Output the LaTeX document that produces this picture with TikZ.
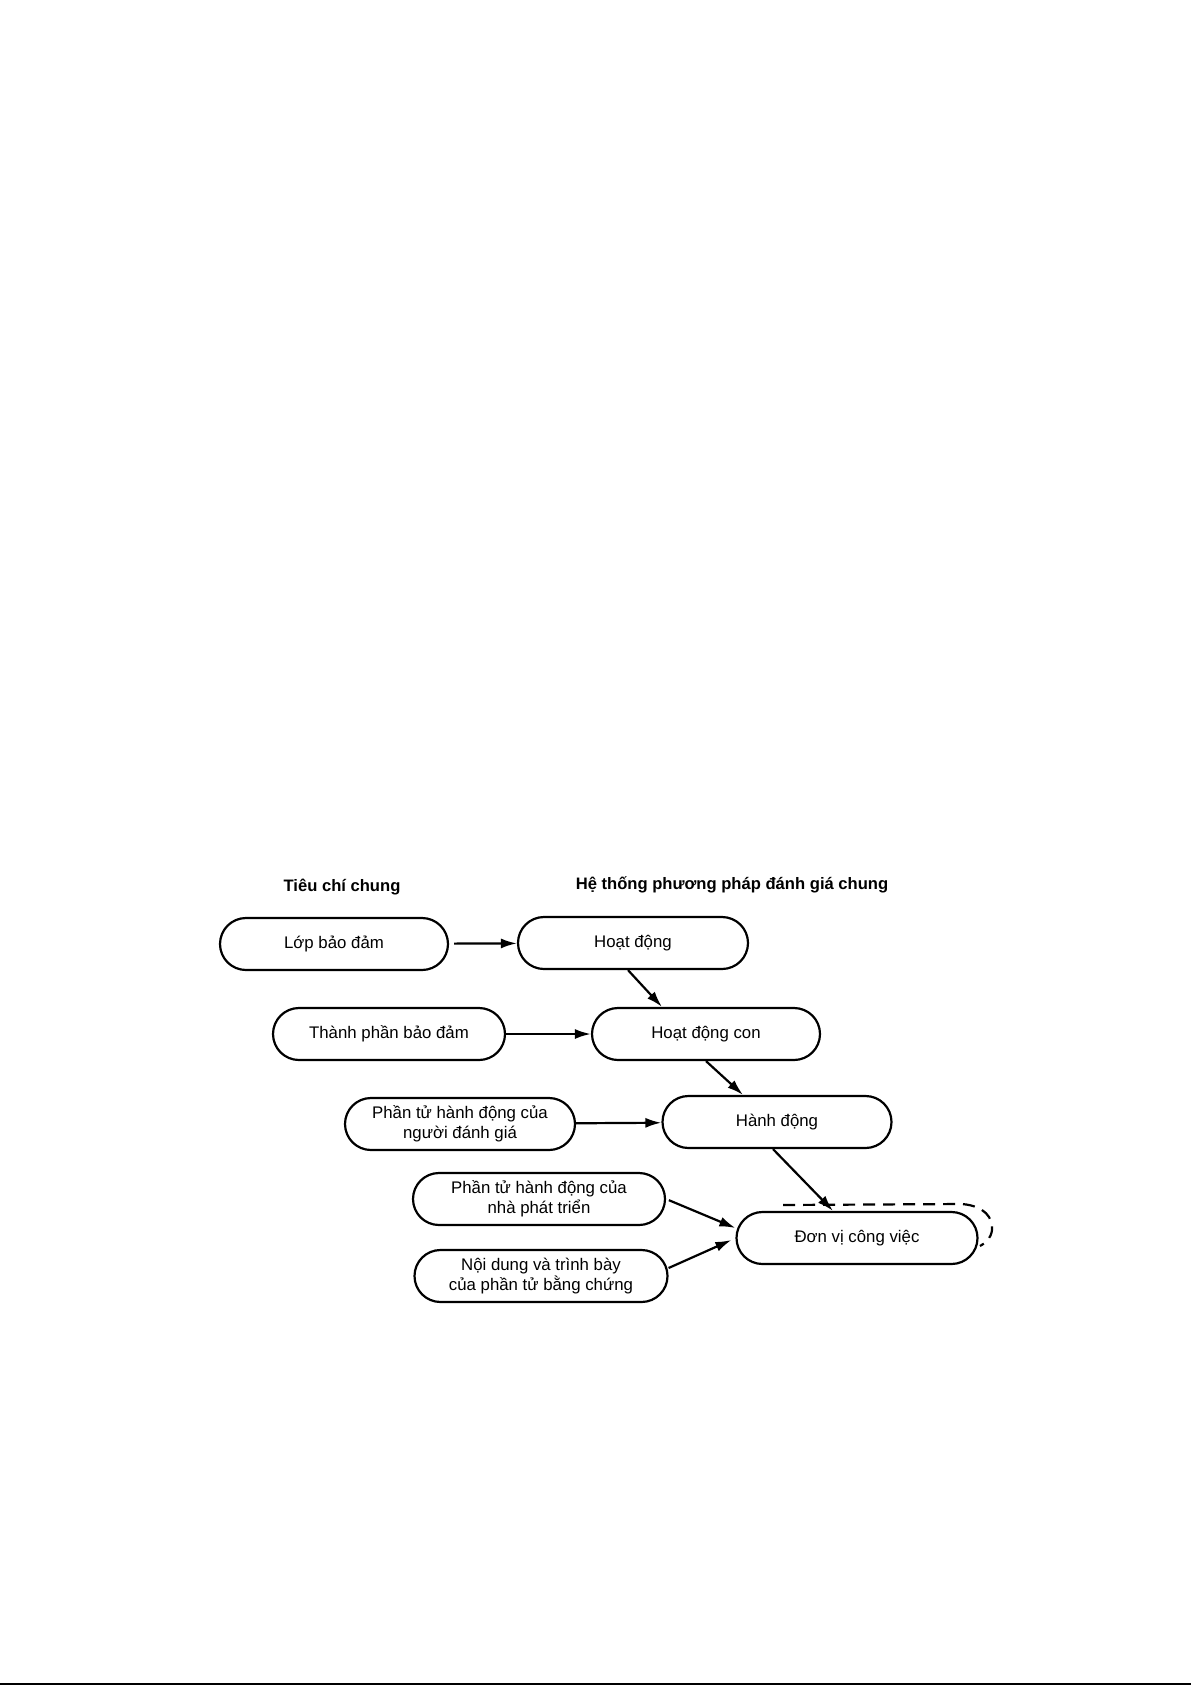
\documentclass[tikz,border=0pt]{standalone}
\usepackage{fontspec}
\setmainfont{Liberation Sans}
\usetikzlibrary{arrows.meta}

\begin{document}
\begin{tikzpicture}[x=0.5pt, y=-0.5pt,
    pill/.style={draw, line width=1.1pt, rounded corners=13pt, minimum height=26pt,
                 inner sep=2pt, align=center, font=\fontsize{8.4}{10}\selectfont},
    head/.style={font=\fontsize{8.3}{10}\selectfont\bfseries},
    link/.style={-{Latex[length=8pt, width=5pt]}, line width=1.1pt}]
    \useasboundingbox (0,0) rectangle (1191,1685);

    % column heads
    \node[head] (crit) at (342,887) {Tiêu chí chung};
    \node[head] (cem) at (732,885) {Hệ thống phương pháp đánh giá chung};

    % left column
    \node[pill, minimum width=114pt] (lop) at (334,944) {Lớp bảo  đảm};
    \node[pill, minimum width=116pt] (tp) at (389,1034) {Thành phần bảo đảm};
    \node[pill, minimum width=115pt] (ptdg) at (460,1124) {Phần tử hành động của\\người đánh giá};
    \node[pill, minimum width=126pt] (ptpt) at (539,1199) {Phần tử hành động của\\nhà phát triển};
    \node[pill, minimum width=126.5pt] (nd) at (541,1276) {Nội dung và trình bày\\của phần tử bằng chứng};

    % right column
    \node[pill, minimum width=115pt] (hd) at (633,943) {Hoạt động};
    \node[pill, minimum width=114pt] (hdc) at (706,1034) {Hoạt động con};
    \node[pill, minimum width=114.5pt] (hanh) at (777,1122) {Hành động};
    \node[pill, minimum width=120.5pt] (dv) at (857,1238) {Đơn vị công việc};

    \draw[link, shorten <=2.5pt] (lop) -- (hd);
    \draw[link] (tp) -- (hdc);
    \draw[link] (ptdg) -- (hanh);
    \draw[link] ([xshift=-2.5pt]hd.south) -- ([xshift=-22pt]hdc.north);
    \draw[link] (hdc.south) -- ([xshift=-17pt]hanh.north);
    \draw[link] ([xshift=-2pt]hanh.south) -- ([xshift=-12pt]dv.north);
    \draw[link, shorten <=1.5pt] (ptpt.east) -- ([yshift=5pt]dv.west);
    \draw[link] ([yshift=4pt]nd.east) -- ([yshift=-1pt, xshift=-2pt]dv.west);

    % dashed outline behind the work unit
    \draw[line width=1.1pt, dash pattern=on 6pt off 4pt]
        (783,1205) -- (962,1204) .. controls (985,1206) and (993,1218) .. (992,1230)
        .. controls (991,1238) and (986,1243) .. (980,1246);

    \draw[line width=0.7pt] (0,1684) -- (1191,1684);
\end{tikzpicture}
\end{document}
